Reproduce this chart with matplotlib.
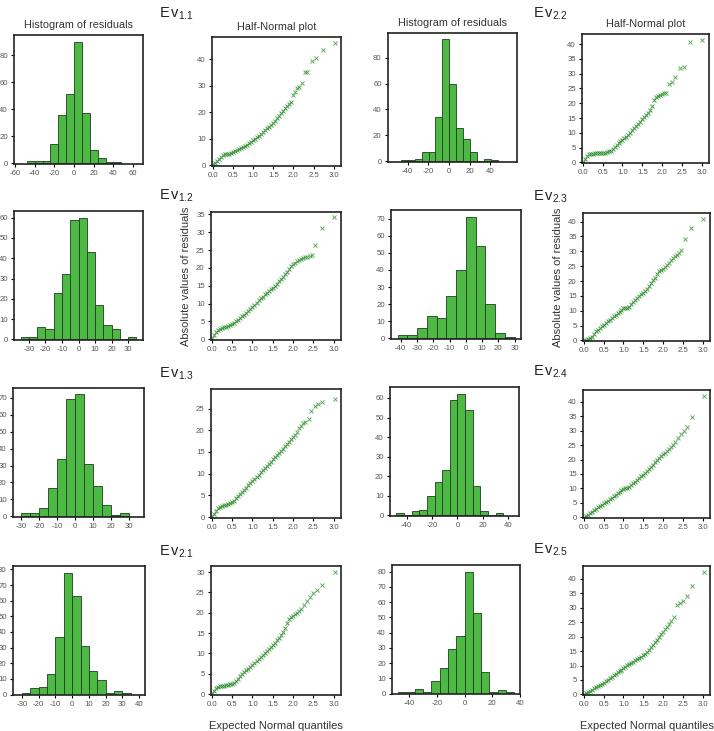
import numpy as np
import matplotlib
matplotlib.use("Agg")
from matplotlib import pyplot as plt
from matplotlib.ticker import MultipleLocator, FormatStrFormatter, FixedLocator

plt.rcParams['font.family'] = ['Liberation Sans', 'DejaVu Sans']
plt.rcParams['mathtext.fontset'] = 'custom'
plt.rcParams['mathtext.rm'] = 'Liberation Sans'
plt.rcParams['mathtext.it'] = 'Liberation Sans'
plt.rcParams['axes.unicode_minus'] = False

# ---- histogram data (bin edges, counts) ----
h11_edges = [-48, -40, -32, -24, -16, -8, 0, 8, 16, 24, 32, 40, 48]
h11_counts = [2, 2, 2, 14, 36, 51, 90, 37, 10, 4, 1, 1]
h22_edges = [-46.5, -39.8, -33.1, -26.4, -19.7, -13.0, -6.3, 0.4, 7.1, 13.8, 20.5, 27.2, 33.9, 40.6, 47.3]
h22_counts = [1, 1, 2, 7, 7, 34, 94, 60, 26, 17, 7, 0, 2, 1]
h12_edges = [-35, -30, -25, -20, -15, -10, -5, 0, 5, 10, 15, 20, 25, 30, 35]
h12_counts = [1, 1, 6, 5, 23, 32, 59, 60, 43, 17, 7, 5, 0, 1]
h23_edges = [-42, -36, -30, -24, -18, -12, -6, 0, 6, 12, 18, 24, 30]
h23_counts = [2, 2, 6, 13, 12, 25, 40, 71, 54, 20, 3, 1]
h13_edges = [-30, -25, -20, -15, -10, -5, 0, 5, 10, 15, 20, 25, 30]
h13_counts = [2, 2, 5, 17, 34, 69, 72, 31, 18, 7, 1, 2]
h24_edges = [-48, -42, -36, -30, -24, -18, -12, -6, 0, 6, 12, 18, 24, 30, 36]
h24_counts = [1, 0, 2, 3, 10, 17, 23, 59, 62, 54, 15, 2, 0, 1]
h21_edges = [-30, -25, -20, -15, -10, -5, 0, 5, 10, 15, 20, 25, 30, 35]
h21_counts = [1, 4, 5, 13, 37, 78, 63, 31, 15, 9, 1, 2, 1]
h25_edges = [-48, -42, -36, -30, -24, -18, -12, -6, 0, 6, 12, 18, 24, 30, 36]
h25_counts = [1, 1, 3, 1, 8, 17, 29, 38, 80, 53, 14, 1, 2, 1]

# ---- half-normal data ----
grid_x = [0.0, 0.05, 0.1, 0.15, 0.2, 0.25, 0.3, 0.35, 0.4, 0.45,
          0.5, 0.55, 0.6, 0.65, 0.7, 0.75, 0.8, 0.85, 0.9, 0.95,
          1.0, 1.05, 1.1, 1.15, 1.2, 1.25, 1.3, 1.35, 1.4, 1.45,
          1.5, 1.55, 1.6, 1.65, 1.7, 1.75, 1.8, 1.85, 1.9, 1.95]

hn11_y = [0.3, 0.8, 1.5, 2.3, 3.2, 3.8, 4.2, 4.3, 4.4, 4.7, 5.0, 5.4, 5.8, 6.2, 6.6, 7.0, 7.3, 7.7, 8.2, 8.8,
          9.5, 10.0, 10.5, 11.1, 11.7, 12.5, 13.3, 13.9, 14.5, 15.2, 16.0, 16.8, 17.7, 18.6, 19.6, 20.5, 21.5, 22.3, 23.1, 23.8]
hn11_tx = [1.99, 2.05, 2.1, 2.15, 2.21, 2.28, 2.34, 2.45, 2.56, 2.73, 3.02]
hn11_ty = [26.5, 27.8, 29.0, 29.4, 31.2, 35.1, 35.1, 39.5, 40.3, 43.6, 46.1]

hn22_y = [0.3, 1.2, 2.3, 2.9, 3.0, 3.0, 3.1, 3.1, 3.2, 3.2, 3.3, 3.3, 3.5, 3.7, 3.9, 4.6, 5.3, 6.0, 6.7, 7.2,
          7.6, 8.1, 8.7, 9.3, 10.0, 10.8, 11.5, 12.3, 13.0, 13.8, 14.6, 15.3, 16.0, 16.8, 17.7, 19.0, 21.2, 22.2, 22.5, 22.8]
hn22_tx = [2.0, 2.05, 2.1, 2.17, 2.24, 2.32, 2.44, 2.54, 2.7, 3.0]
hn22_ty = [23.0, 23.3, 23.6, 26.5, 27.3, 28.8, 31.9, 32.1, 40.7, 41.4]

hn12_y = [0.3, 1.2, 2.1, 2.5, 2.8, 3.1, 3.4, 3.5, 3.7, 3.9, 4.2, 4.6, 5.1, 5.5, 6.0, 6.4, 6.8, 7.4, 8.0, 8.5,
          9.1, 9.6, 10.2, 10.9, 11.5, 12.0, 12.6, 13.0, 13.5, 14.0, 14.4, 15.0, 15.6, 16.3, 17.0, 17.6, 18.2, 19.0, 19.8, 20.5]
hn12_tx = [2.0, 2.05, 2.1, 2.15, 2.2, 2.25, 2.3, 2.35, 2.42, 2.47, 2.55, 2.7, 3.0]
hn12_ty = [21.0, 21.3, 21.9, 22.1, 22.4, 22.8, 23.1, 23.2, 23.3, 23.6, 26.5, 31.3, 34.3]

hn23_y = [0.2, 0.2, 0.4, 0.8, 1.3, 2.2, 3.0, 3.5, 4.1, 4.7, 5.3, 5.8, 6.4, 7.0, 7.5, 8.1, 8.6, 9.2, 9.7, 10.3,
          10.8, 10.8, 10.8, 11.4, 12.2, 12.9, 13.6, 14.3, 15.0, 15.6, 16.1, 16.6, 17.2, 18.3, 19.4, 20.2, 20.9, 22.3, 23.4, 23.8]
hn23_tx = [2.0, 2.05, 2.1, 2.15, 2.2, 2.25, 2.3, 2.35, 2.4, 2.45, 2.55, 2.7, 3.0]
hn23_ty = [24.2, 24.8, 25.4, 26.2, 27.0, 27.8, 28.4, 28.9, 29.3, 30.4, 34.0, 37.9, 41.0]

hn13_y = [0.2, 0.8, 1.5, 2.0, 2.3, 2.5, 2.7, 2.9, 3.0, 3.2, 3.4, 3.7, 4.3, 4.9, 5.4, 5.9, 6.3, 6.8, 7.3, 7.8,
          8.3, 8.8, 9.3, 9.8, 10.3, 10.8, 11.3, 11.8, 12.3, 12.8, 13.3, 13.8, 14.3, 14.8, 15.3, 15.8, 16.3, 16.9, 17.4, 17.9]
hn13_tx = [2.0, 2.05, 2.1, 2.15, 2.2, 2.25, 2.3, 2.38, 2.45, 2.55, 2.62, 2.72, 3.02]
hn13_ty = [18.4, 18.9, 19.6, 20.5, 21.0, 21.6, 22.0, 22.5, 24.5, 25.5, 26.0, 26.5, 27.3]

hn24_y = [0.2, 0.5, 1.0, 1.5, 2.0, 2.5, 3.0, 3.5, 4.0, 4.4, 4.9, 5.3, 5.8, 6.3, 6.8, 7.3, 7.8, 8.3, 8.8, 9.3,
          9.8, 10.0, 10.2, 10.6, 11.2, 11.8, 12.4, 13.0, 13.6, 14.2, 14.8, 15.4, 16.1, 16.8, 17.5, 18.2, 19.0, 19.7, 20.4, 21.1]
hn24_tx = [2.0, 2.05, 2.1, 2.15, 2.2, 2.25, 2.3, 2.38, 2.45, 2.52, 2.6, 2.72, 3.02]
hn24_ty = [21.8, 22.4, 23.0, 23.6, 24.2, 25.0, 26.0, 27.5, 28.8, 30.0, 31.2, 34.8, 42.0]

hn21_y = [0.2, 0.8, 1.4, 1.7, 1.9, 2.0, 2.1, 2.2, 2.3, 2.4, 2.6, 2.8, 3.2, 3.8, 4.4, 5.0, 5.5, 5.9, 6.3, 6.7,
          7.1, 7.6, 8.1, 8.6, 9.1, 9.6, 10.1, 10.6, 11.1, 11.6, 12.1, 12.6, 13.2, 13.8, 14.5, 15.3, 16.3, 17.5, 18.5, 19.0]
hn21_tx = [2.0, 2.05, 2.1, 2.15, 2.2, 2.27, 2.35, 2.42, 2.5, 2.58, 2.7, 3.02]
hn21_ty = [19.3, 19.6, 20.0, 20.5, 21.0, 21.8, 22.8, 23.8, 24.8, 25.7, 26.8, 30.0]

hn25_y = [0.2, 0.5, 0.9, 1.3, 1.7, 2.1, 2.5, 2.9, 3.3, 3.7, 4.1, 4.6, 5.1, 5.6, 6.1, 6.6, 7.1, 7.6, 8.1, 8.6,
          9.1, 9.6, 10.1, 10.6, 11.0, 11.4, 11.8, 12.2, 12.6, 13.0, 13.5, 14.1, 14.8, 15.5, 16.3, 17.1, 18.0, 18.9, 19.8, 20.8]
hn25_tx = [2.0, 2.05, 2.1, 2.15, 2.2, 2.27, 2.35, 2.42, 2.5, 2.6, 2.72, 3.02]
hn25_ty = [21.8, 22.7, 23.5, 24.3, 25.5, 27.0, 31.0, 31.6, 32.2, 34.2, 37.4, 42.3]

W, H = 714, 731
fig = plt.figure(figsize=(W / 100, H / 100), dpi=100)

BAR = '#4db843'
EDGE = '#1f3f1f'
MARK = '#2e8f2e'
TICKC = '#555555'


def rect(x1, y1, x2, y2):
    return [x1 / W, 1 - y2 / H, (x2 - x1) / W, (y2 - y1) / H]


def style(ax):
    for s in ax.spines.values():
        s.set_linewidth(1.2)
        s.set_color('#222222')
    ax.tick_params(direction='out', length=2.5, width=0.8, labelsize=5.6,
                   labelcolor=TICKC, pad=2)


def hist(r, edges, counts, xlim, ylim, xstep, ystep):
    ax = fig.add_axes(rect(*r))
    e = np.array(edges, dtype=float)
    ax.bar(e[:-1], counts, width=np.diff(e), align='edge', color=BAR,
           edgecolor=EDGE, linewidth=0.6)
    ax.set_xlim(*xlim)
    ax.set_ylim(*ylim)
    ax.xaxis.set_major_locator(MultipleLocator(xstep))
    ax.yaxis.set_major_locator(MultipleLocator(ystep))
    style(ax)
    return ax


def halfnorm(r, dense_y, tx, ty, ylim, ystep):
    ax = fig.add_axes(rect(*r))
    ax.plot(grid_x, dense_y, 'x', color=MARK, ms=2.6, mew=0.7, alpha=0.85)
    ax.plot(tx, ty, 'x', color=MARK, ms=2.6, mew=0.7, alpha=0.75)
    ax.set_xlim(-0.02, 3.18)
    ax.set_ylim(*ylim)
    ax.xaxis.set_major_locator(MultipleLocator(0.5))
    ax.xaxis.set_major_formatter(FormatStrFormatter('%.1f'))
    ax.yaxis.set_major_locator(MultipleLocator(ystep))
    style(ax)
    return ax


# row 1
a = hist((14, 35, 143, 164), h11_edges, h11_counts, (-61, 70), (-0.5, 95), 20, 20)
a.set_title('Histogram of residuals', fontsize=7.8, color='#333333', pad=5)
b = halfnorm((212, 37, 341, 166), hn11_y, hn11_tx, hn11_ty, (-0.3, 48.4), 10)
b.set_title('Half-Normal plot', fontsize=7.8, color='#333333', pad=5)
c = hist((388, 33, 517, 162), h22_edges, h22_counts, (-59, 66), (-0.5, 99), 20, 20)
c.xaxis.set_major_locator(FixedLocator([-40, -20, 0, 20, 40]))
c.set_title('Histogram of residuals', fontsize=7.8, color='#333333', pad=5)
d = halfnorm((582, 34, 709, 163), hn22_y, hn22_tx, hn22_ty, (-0.2, 43.4), 5)
d.set_title('Half-Normal plot', fontsize=7.8, color='#333333', pad=5)

# row 2
hist((14, 211, 143, 340), h12_edges, h12_counts, (-39, 39), (-0.3, 63.3), 10, 10)
e = halfnorm((211, 212, 341, 340), hn12_y, hn12_tx, hn12_ty, (-0.2, 35.7), 5)
e.set_ylabel('Absolute values of residuals', fontsize=8, color='#333333', labelpad=4)
hist((391, 210, 521, 339), h23_edges, h23_counts, (-46, 34), (-0.3, 75), 10, 10)
f = halfnorm((583, 213, 710, 341), hn23_y, hn23_tx, hn23_ty, (-0.2, 42.9), 5)
f.set_ylabel('Absolute values of residuals', fontsize=8, color='#333333', labelpad=4)

# row 3
hist((13, 388, 144, 517), h13_edges, h13_counts, (-34.5, 38.3), (-0.3, 75.6), 10, 10)
halfnorm((211, 389, 341, 518), hn13_y, hn13_tx, hn13_ty, (-0.2, 29.5), 5)
hist((390, 387, 519, 516), h24_edges, h24_counts, (-53, 48.4), (-0.3, 65.6), 20, 10)
halfnorm((583, 390, 710, 518), hn24_y, hn24_tx, hn24_ty, (-0.2, 44), 5)

# row 4
hist((13, 566, 145, 695), h21_edges, h21_counts, (-35.4, 43.6), (-0.3, 82.2), 10, 10)
g = halfnorm((211, 566, 341, 695), hn21_y, hn21_tx, hn21_ty, (-0.2, 31.5), 5)
g.set_xlabel('Expected Normal quantiles', fontsize=8, color='#333333', labelpad=9)
hist((392, 565, 520, 694), h25_edges, h25_counts, (-52.3, 40), (-0.3, 84.3), 20, 10)
k = halfnorm((583, 566, 710, 695), hn25_y, hn25_tx, hn25_ty, (-0.2, 44.5), 5)
k.set_xlabel('Expected Normal quantiles', fontsize=8, color='#333333', labelpad=9)

# Ev labels
ev_labels = ['1.1', '2.2', '1.2', '2.3', '1.3', '2.4', '2.1', '2.5']
ev_px = [(159, 14), (533, 14), (159, 196), (533, 197), (159, 374), (533, 372), (159, 552), (533, 550)]
for lab, (px, py) in zip(ev_labels, ev_px):
    fig.text(px / W, 1 - py / H, r'$\mathrm{E\,v}_{%s}$' % lab, fontsize=10.5,
             color='#222222', ha='left', va='center')

fig.savefig('out.png', dpi=100)
